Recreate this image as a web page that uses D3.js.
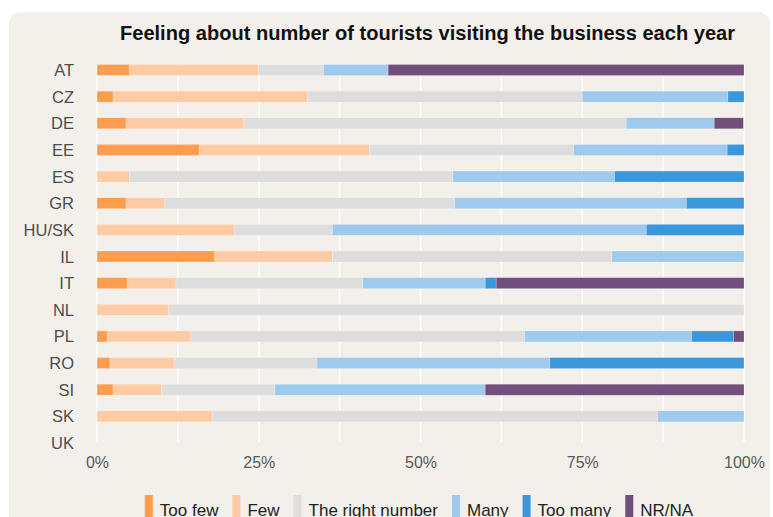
<!DOCTYPE html>
<html>
<head>
<meta charset="utf-8">
<script src="https://cdn.jsdelivr.net/npm/d3@7"></script>
<style>
  html, body { margin: 0; padding: 0; background: #ffffff; }
  svg { display: block; font-family: "Liberation Sans", Arial, Helvetica, sans-serif; }
</style>
</head>
<body>
<svg id="chart" width="773" height="517"></svg>
<script>
// Countries, top to bottom
const countries = ["AT", "CZ", "DE", "EE", "ES", "GR", "HU/SK", "IL", "IT", "NL", "PL", "RO", "SI", "SK", "UK"];

// Share of answers per country (%)
const tooFew  = [5,   2.5, 4.5,  15.8, 0,  4.5,  0,    18.2, 4.7,  0,    1.6,  2,  2.5,  0,    0];
const few     = [20,  30,  18.2, 26.3, 5,  6,    21.2, 18.2, 7.5,  11.1, 12.9, 10, 7.5,  17.8, 0];
const right   = [10,  42.5, 59.1, 31.6, 50, 44.8, 15.2, 43.2, 28.9, 88.9, 51.6, 22, 17.5, 68.9, 0];
const many    = [10,  22.5, 13.6, 23.7, 25, 35.8, 48.5, 20.4, 18.9, 0,    25.8, 36, 32.5, 13.3, 0];
const tooMany = [0,   2.5, 0,    2.6,  20, 8.9,  15.1, 0,    1.7,  0,    6.5,  30, 0,    0,    0];
const nrna    = [55,  0,   4.5,  0,    0,  0,    0,    0,    38.3, 0,    1.6,  0,  40,   0,    0];

const seriesNames = ["Too few", "Few", "The right number", "Many", "Too many", "NR/NA"];
const seriesColors = ["#ff9d4e", "#ffcba4", "#dddddd", "#9ecaed", "#3b97dc", "#714e7b"];
const tickValues = [0, 0.25, 0.5, 0.75, 1];
const tickLabels = ["0%", "25%", "50%", "75%", "100%"];
const title = "Feeling about number of tourists visiting the business each year";

const seriesValues = [tooFew, few, right, many, tooMany, nrna];
const rows = countries.map((c, i) => {
  const r = { country: c };
  seriesNames.forEach((s, k) => { r[s] = seriesValues[k][i]; });
  return r;
});

const svg = d3.select("#chart");
const W = 773, H = 517;

// white page + rounded panel
svg.append("rect").attr("width", W).attr("height", H).attr("fill", "#ffffff");
svg.append("rect")
  .attr("x", 9).attr("y", 12).attr("width", 761).attr("height", 540)
  .attr("rx", 12).attr("fill", "#f3f0eb");

const x = d3.scaleLinear().domain([0, 1]).range([97, 744]);
const y = d3.scalePoint().domain(countries).range([70, 443]);
const barH = 11;

// grid (every 12.5%)
const grid = d3.range(0, 1.0001, 0.125);
svg.append("g").selectAll("line").data(grid).join("line")
  .attr("x1", d => x(d)).attr("x2", d => x(d))
  .attr("y1", 64).attr("y2", 442)
  .attr("stroke", "#ffffff").attr("stroke-width", 1.5);

// stacked bars
const stack = d3.stack().keys(seriesNames)(rows);
const color = d3.scaleOrdinal().domain(seriesNames).range(seriesColors);

svg.append("g").selectAll("g").data(stack).join("g")
  .attr("fill", d => color(d.key))
  .selectAll("rect").data(d => d).join("rect")
  .filter(d => d[1] - d[0] > 0)
  .attr("x", d => x(d[0] / 100))
  .attr("width", d => x(d[1] / 100) - x(d[0] / 100))
  .attr("y", d => y(d.data.country) - barH / 2)
  .attr("height", barH)
  .attr("stroke", "rgba(255,255,255,0.35)")
  .attr("stroke-width", 0.6);

// category labels
svg.append("g").selectAll("text").data(countries).join("text")
  .attr("x", 74).attr("y", d => y(d) + 6)
  .attr("text-anchor", "end")
  .attr("font-size", 16.5).attr("fill", "#4d4d4d")
  .text(d => d);

// x tick labels
const xAxis = d3.axisBottom(x).tickValues(tickValues)
  .tickFormat((d, i) => tickLabels[i]).tickSize(0).tickPadding(0);
const ax = svg.append("g").attr("transform", "translate(0,456)").call(xAxis);
ax.select(".domain").remove();
ax.selectAll("text").attr("font-size", 16).attr("fill", "#595959")
  .attr("font-family", "Liberation Sans, Arial, sans-serif").attr("dy", "0.75em");

// title
svg.append("text")
  .attr("x", 120).attr("y", 40)
  .attr("font-size", 19.5).attr("font-weight", "bold").attr("fill", "#111111")
  .attr("textLength", 615).attr("lengthAdjust", "spacingAndGlyphs")
  .text(title);

// legend
const lg = svg.append("g");
const items = lg.selectAll("g").data(seriesNames).join("g");
items.append("rect").attr("width", 8).attr("height", 26).attr("y", 495)
  .attr("fill", d => color(d));
items.append("text").attr("x", 15).attr("y", 515.5)
  .attr("font-size", 17).attr("fill", "#222222").text(d => d);
let cursor = 0;
const offsets = [];
items.each(function () {
  offsets.push(cursor);
  const w = this.querySelector("text").getComputedTextLength();
  cursor += 15 + w + 14;
});
const total = cursor - 14;
const start = 419 - total / 2;
items.attr("transform", (d, i) => `translate(${start + offsets[i]},0)`);
</script>
</body>
</html>
